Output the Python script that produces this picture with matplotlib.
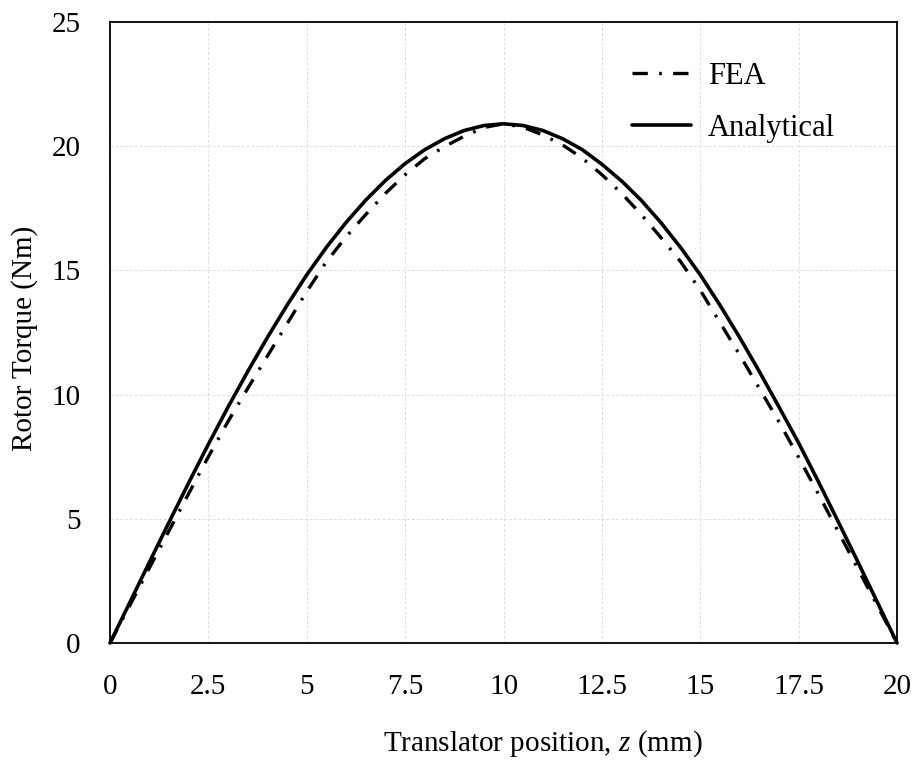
import matplotlib
matplotlib.use("Agg")
import matplotlib.pyplot as plt

# Translator position (mm)
z_mm = [0, 0.5, 1, 1.5, 2, 2.5, 3, 3.5, 4, 4.5, 5, 5.5, 6, 6.5, 7, 7.5, 8, 8.5, 9, 9.5,
        10, 10.5, 11, 11.5, 12, 12.5, 13, 13.5, 14, 14.5, 15, 15.5, 16, 16.5, 17, 17.5,
        18, 18.5, 19, 19.5, 20]

# Rotor torque from finite-element analysis (Nm)
torque_fea = [0, 1.5, 3.02, 4.52, 6.02, 7.5, 8.92, 10.25, 11.55, 12.85, 14.15, 15.35,
              16.35, 17.25, 18.1, 18.85, 19.5, 19.98, 20.4, 20.75, 20.9, 20.76, 20.45,
              20.05, 19.52, 18.85, 18.1, 17.25, 16.32, 15.35, 14.2, 12.9, 11.6, 10.25,
              8.9, 7.47, 6.0, 4.5, 3.0, 1.5, 0]

# Rotor torque from the analytical model (Nm)
torque_analytical = [0, 1.62, 3.25, 4.86, 6.45, 8.0, 9.5, 10.93, 12.3, 13.6, 14.82,
                     15.93, 16.93, 17.83, 18.62, 19.3, 19.86, 20.3, 20.63, 20.83, 20.9,
                     20.83, 20.63, 20.3, 19.86, 19.27, 18.6, 17.82, 16.92, 15.92, 14.82,
                     13.6, 12.3, 10.93, 9.5, 8.05, 6.5, 4.9, 3.28, 1.64, 0]

x_ticks = [0, 2.5, 5, 7.5, 10, 12.5, 15, 17.5, 20]
x_tick_labels = ["0", "2.5", "5", "7.5", "10", "12.5", "15", "17.5", "20"]
y_ticks = [0, 5, 10, 15, 20, 25]

plt.rcParams["font.family"] = ["Liberation Serif", "DejaVu Serif"]
plt.rcParams["mathtext.fontset"] = "custom"
plt.rcParams["mathtext.rm"] = "Liberation Serif"
plt.rcParams["mathtext.it"] = "Liberation Serif:italic"

fig = plt.figure(figsize=(9.16, 7.62), dpi=100)
ax = fig.add_axes([0.1201, 0.1562, 0.8592, 0.8150])

ax.plot(z_mm, torque_fea, color="black", lw=2.4, linestyle=(0, (4.6, 3.4, 0.8, 3.4)),
        label="FEA", clip_on=False, zorder=3)
ax.plot(z_mm, torque_analytical, color="black", lw=2.6, solid_capstyle="round",
        label="Analytical", clip_on=False, zorder=4)

ax.set_xlim(0, 20)
ax.set_ylim(0, 25)
ax.set_xticks(x_ticks)
ax.set_xticklabels(x_tick_labels)
ax.set_yticks(y_ticks)
ax.tick_params(axis="both", length=0, labelsize=21, colors="black")
ax.tick_params(axis="x", pad=22)
ax.tick_params(axis="y", pad=21)

ax.grid(True, color="#dedede", lw=0.7, linestyle=(0, (3, 2)))
ax.set_axisbelow(True)
for side in ["left", "right", "top", "bottom"]:
    ax.spines[side].set_color("black")
    ax.spines[side].set_linewidth(1.3)

ax.set_xlabel("Translator position, $z$ (mm)", fontsize=21)
ax.xaxis.label.set_va("center")
ax.xaxis.set_label_coords(0.55, -0.162)
ax.set_ylabel("Rotor Torque (Nm)", fontsize=21)
ax.yaxis.label.set_va("center")
ax.yaxis.set_label_coords(-0.108, 0.49)

leg = ax.legend(loc="upper left", bbox_to_anchor=(0.663, 0.936), frameon=False,
                fontsize=22, handlelength=1.95, handletextpad=0.55, labelspacing=0.75,
                borderpad=0, borderaxespad=0)

fig.savefig("out.png", dpi=100)
